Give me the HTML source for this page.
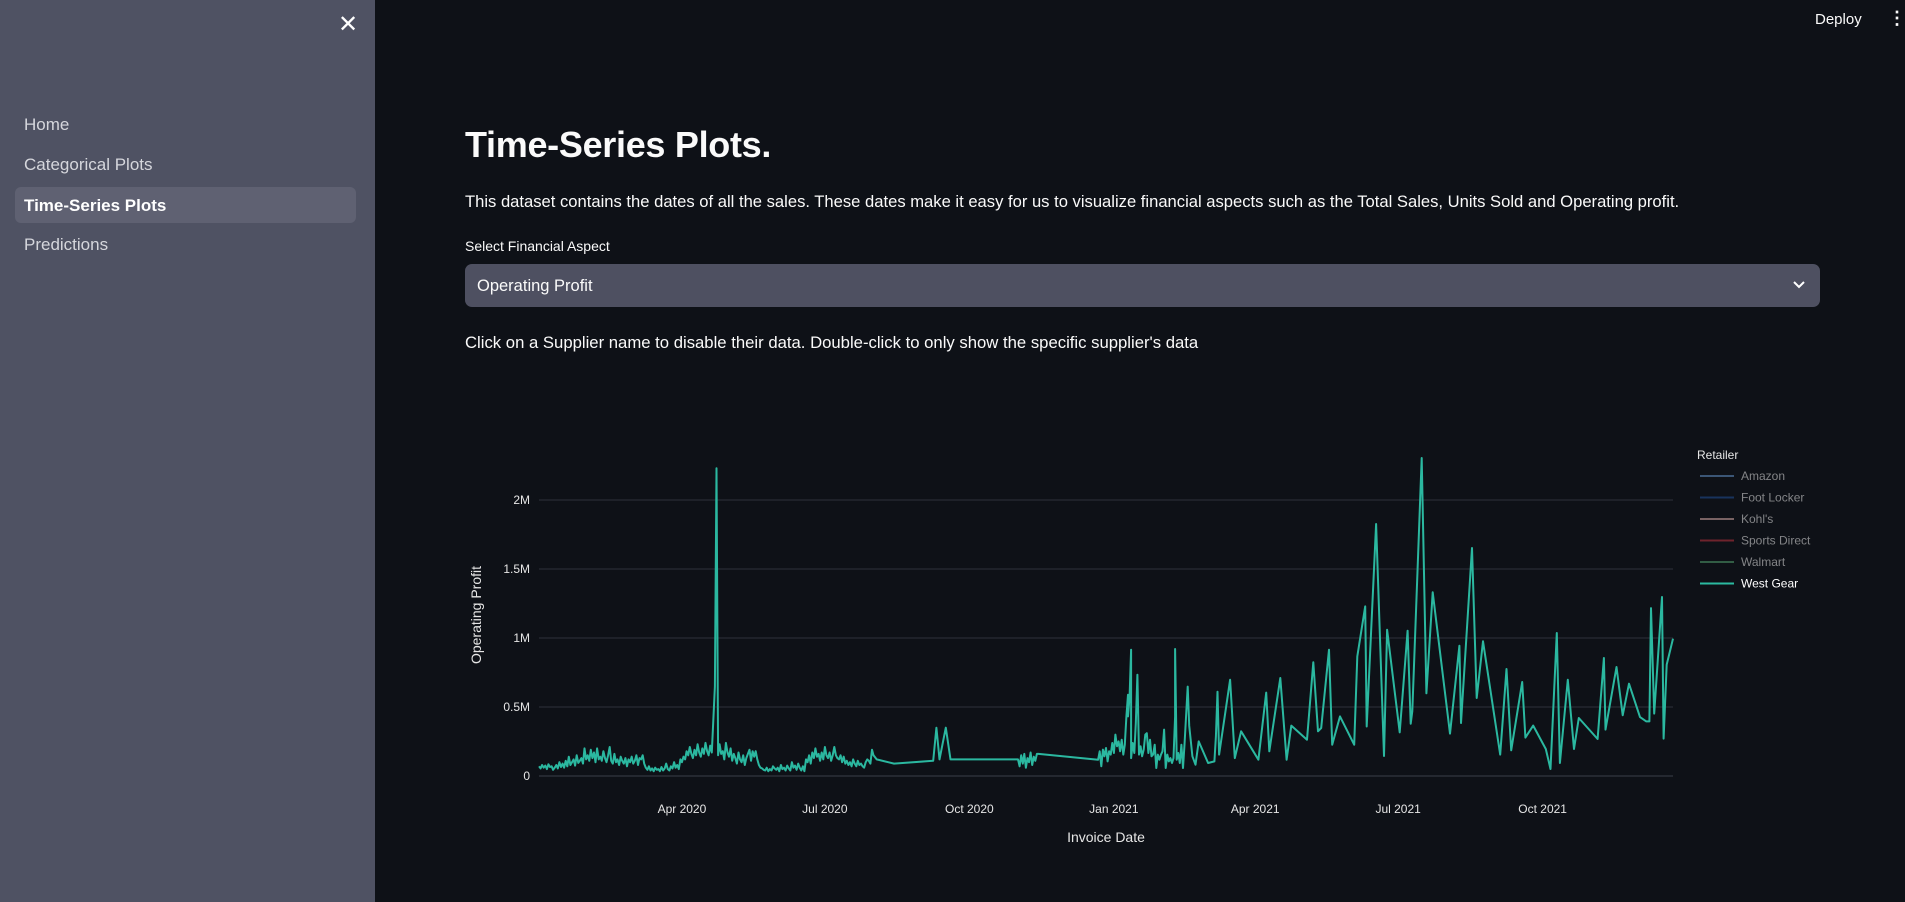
<!DOCTYPE html>
<html><head><meta charset="utf-8">
<style>
html,body{margin:0;padding:0;width:1905px;height:902px;overflow:hidden;background:#0e1117;font-family:"Liberation Sans",sans-serif;}
#sidebar{position:absolute;left:0;top:0;width:375px;height:902px;background:#4f5263;}
.nav{position:absolute;left:24px;font-size:17px;color:#d5d6dc;}
#active{position:absolute;left:15px;top:187px;width:341px;height:36px;background:#5f6172;border-radius:6px;}
.t{position:absolute;color:#fafafa;white-space:nowrap;}
</style></head><body>
<div id="sidebar">
 <div style="position:absolute;left:338px;top:10px;color:#fff;font-size:24px;">✕</div>
 <div class="nav" style="top:115px;">Home</div>
 <div class="nav" style="top:155px;">Categorical Plots</div>
 <div id="active"></div>
 <div class="nav" style="top:196px;color:#fff;font-weight:bold;">Time-Series Plots</div>
 <div class="nav" style="top:235px;">Predictions</div>
</div>
<div class="t" style="left:1815px;top:11px;font-size:15px;">Deploy</div>
<div class="t" style="left:1888px;top:8px;font-size:18px;font-weight:bold;">⋮</div>
<div class="t" style="left:465px;top:124px;font-size:36px;font-weight:bold;letter-spacing:-0.3px;">Time-Series Plots.</div>
<div class="t" style="left:465px;top:192px;font-size:16.6px;">This dataset contains the dates of all the sales. These dates make it easy for us to visualize financial aspects such as the Total Sales, Units Sold and Operating profit.</div>
<div class="t" style="left:465px;top:238px;font-size:14px;">Select Financial Aspect</div>
<div style="position:absolute;left:465px;top:264px;width:1355px;height:43px;background:#4e5061;border-radius:7px;">
 <div class="t" style="left:12px;top:13px;font-size:16.5px;">Operating Profit</div>
 <svg style="position:absolute;right:14px;top:15px" width="14" height="12"><path d="M2 3 L7 8 L12 3" stroke="#fff" stroke-width="2" fill="none"/></svg>
</div>
<div class="t" style="left:465px;top:333px;font-size:16.7px;">Click on a Supplier name to disable their data. Double-click to only show the specific supplier's data</div>

<svg id="chart" style="position:absolute;left:0;top:0" width="1905" height="902"></svg>
<script>
const xTickLabels=["Apr 2020","Jul 2020","Oct 2020","Jan 2021","Apr 2021","Jul 2021","Oct 2021"];
const xTickDays=[91,182,274,366,456,547,639];
const yTickValues=[0,500000,1000000,1500000,2000000];
const yTickLabels=["0","0.5M","1M","1.5M","2M"];
const retailers=["Amazon","Foot Locker","Kohl's","Sports Direct","Walmart","West Gear"];
const retailerColors=["#5a85b5","#1f4b8c","#c09a98","#b0303a","#4a9065","#2bbaa0"];
const retailerVisible=[false,false,false,false,false,true];
// West Gear: [day offset from 2020-01-01, operating profit in thousands]
const westGear=[[0,70],[1,55],[2,80],[3,60],[4,75],[5,50],[6,85],[7,65],[8,70],[9,45],[10,60],[11,80],[12,55],[13,100],
[14,65],[15,90],[16,60],[17,110],[18,70],[19,140],[20,80],[21,100],[22,120],[23,75],[24,150],[25,95],[26,110],[27,130],[28,90],[29,200],[30,120],
[31,150],[32,110],[33,190],[34,130],[35,170],[36,100],[37,200],[38,120],[39,140],[40,110],[41,180],[42,130],[43,100],[44,150],[45,210],[46,110],[47,90],[48,160],[49,100],[50,120],[51,80],[52,140],[53,110],[54,90],[55,130],[56,70],[57,120],[58,100],[59,140],[60,90],[61,110],[62,150],[63,80],[64,130],[65,120],[66,150],[67,90],
[68,60],[69,45],[70,70],[71,40],[72,55],[73,35],[74,60],[75,45],[76,50],[77,35],[78,65],[79,40],[80,55],[81,90],[82,50],[83,40],[84,70],[85,55],[86,100],[87,60],[88,80],[89,50],[90,120],
[91,100],[92,140],[93,120],[94,180],[95,150],[96,210],[97,160],[98,130],[99,190],[100,150],[101,230],[102,170],[103,140],[104,200],[105,160],[106,240],[107,180],[108,150],[109,220],[110,170],[112,650],[113,2230],[114,150],
[115,230],[116,160],[117,180],[118,120],[119,240],[120,170],[121,140],[122,200],[123,110],[124,160],[125,130],[126,90],[127,170],[128,120],[129,100],[130,150],[131,80],[132,130],[133,160],[134,190],[135,110],[136,180],
[137,140],[138,180],[139,120],[140,80],[141,60],
[142,55],[143,45],[144,40],[145,60],[146,35],[147,50],[148,40],[149,70],[150,55],[151,45],[152,60],[153,35],[154,80],[155,50],[156,60],[157,40],[158,75],[159,55],[160,40],[161,100],[162,60],[163,75],[164,45],[165,90],[166,60],[167,40],[168,70],[169,35],
[170,120],[171,100],[172,150],[173,90],[174,170],[175,130],[176,200],[177,140],[178,160],[179,110],[180,170],[181,120],[182,210],[183,150],[184,130],[185,170],[186,110],[187,150],
[188,210],[189,150],[190,130],[191,120],[192,150],[193,100],[194,140],[195,90],[196,110],[197,80],[198,100],[199,70],[200,120],[201,90],[202,70],[203,110],[204,80],[205,90],[206,70],[207,60],[208,100],[209,120],[210,110],[211,90],
[212,190],[213,150],[215,120],[226,90],[251,110],[253,350],[255,120],[259,350],[262,120],[305,120],
[306,70],[307,150],[308,90],[309,160],[310,60],[311,130],[312,100],[313,170],[314,80],[315,140],[316,110],[317,160],[318,160],
[356,118],[357,179],[358,70],[359,191],[360,143],[361,203],[362,106],[363,179],[364,155],[365,239],[366,167],[367,300],[368,215],[369,251],[370,179],[371,263],[372,155],[373,227],[374,432],[375,589],[375,432],[376,577],[377,915],[377,130],[378,239],[379,167],[380,382],[381,734],[382,155],[383,215],[384,143],[385,191],[386,300],[387,310],[388,167],[389,263],[390,143],[391,155],[392,227],[393,58],[394,155],[395,118],[396,155],[397,179],[398,336],[399,58],[400,155],[401,106],[402,130],[403,94],[404,130],[405,430],[405,920],[406,118],[407,167],[408,94],[409,227],[410,58],[411,227],[413,648],[414,365],[416,143],[418,82],[420,251],[426,94],[430,106],[431,287],[432,611],[433,155],[440,697],[443,130],[447,324],[458,118],[463,604],[465,179],[472,710],[476,118],[479,365],[489,263],[493,824],[496,324],[498,348],[503,915],[505,227],[510,432],[519,227],[521,867],[526,1229],[527,359],[533,1826],[538,145],[540,1060],[548,316],[553,1053],[555,379],[556,469],[562,2304],[565,599],[569,1331],[580,307],[586,944],[587,384],[594,1652],[597,565],[601,976],[612,155],[616,775],[619,186],[626,681],[628,278],[633,365],[641,196],[644,51],[648,1036],[650,94],[655,697],[659,196],[662,420],[674,268],[678,855],[679,336],[686,790],[690,440],[694,669],[701,427],[705,396],[707,396],[708,1217],[710,452],[715,1297],[716,271],[718,807],[722,995]];

const NS="http://www.w3.org/2000/svg";
const svg=document.getElementById('chart');
const X0=539,X1=1673,D0=0,D1=722,Y0=776,Y1=500,V1=2000000;
const xs=d=>X0+(d-D0)/(D1-D0)*(X1-X0);
const ys=v=>Y0-v/V1*(Y0-Y1);
function mk(tag,attrs,parent){const e=document.createElementNS(NS,tag);for(const k in attrs)e.setAttribute(k,attrs[k]);(parent||svg).appendChild(e);return e;}
yTickValues.forEach((v,i)=>{
  const g=mk('line',{x1:X0,x2:X1,y1:ys(v),y2:ys(v),stroke:i===0?'#3b3f4a':'#2d313b','stroke-width':1});
  
  
  const t=mk('text',{x:530,y:ys(v)+4,'text-anchor':'end',fill:'#e6e6e6','font-size':12,'font-family':'Liberation Sans, sans-serif'});
  t.textContent=yTickLabels[i];
  
  
});
xTickDays.forEach((d,i)=>{
  const t=mk('text',{x:xs(d),y:813,'text-anchor':'middle',fill:'#e6e6e6','font-size':12,'font-family':'Liberation Sans, sans-serif'});
  t.textContent=xTickLabels[i];
  
  
});
const yt=mk('text',{x:0,y:0,transform:'translate(481,615) rotate(-90)','text-anchor':'middle',fill:'#e6e6e6','font-size':14,'font-family':'Liberation Sans, sans-serif'});
yt.textContent='Operating Profit';


const xt=mk('text',{x:1106,y:842,'text-anchor':'middle',fill:'#e6e6e6','font-size':14,'font-family':'Liberation Sans, sans-serif'});
xt.textContent='Invoice Date';


const pts=westGear.map(p=>xs(p[0]).toFixed(1)+','+ys(p[1]*1000).toFixed(1)).join(' ');
const line=mk('polyline',{points:pts,fill:'none',stroke:'#2bb8a0','stroke-width':2,'stroke-linejoin':'round'});


const lt=mk('text',{x:1697,y:459,fill:'#e6e6e6','font-size':12,'font-family':'Liberation Sans, sans-serif'});
lt.textContent='Retailer';


retailers.forEach((r,i)=>{
  const y=476+i*21.5;
  const g=mk('g',{opacity:retailerVisible[i]?1:0.6});
  
  
  mk('line',{x1:1700,x2:1734,y1:y,y2:y,stroke:retailerColors[i],'stroke-width':2},g);
  const t=mk('text',{x:1741,y:y+4,fill:retailerVisible[i]?'#ffffff':'#d0d0d0','font-size':12,'font-family':'Liberation Sans, sans-serif'},g);
  t.textContent=r;
});
</script>
</body></html>
